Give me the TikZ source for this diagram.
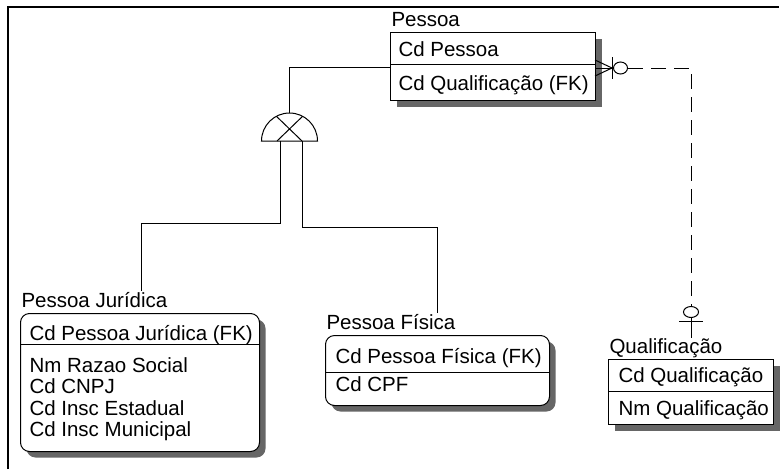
\documentclass[tikz,border=0pt]{standalone}
\usepackage{fontspec}
\setmainfont{Liberation Sans}
\usetikzlibrary{positioning,shadows,shapes.geometric}
\definecolor{Shade}{gray}{0.4}

\begin{document}
\begin{tikzpicture}[x=1pt, y=-1pt, font=\fontsize{20.5}{21.5}\selectfont, line width=1pt]
\tikzset{ent/.style={draw, fill=white, anchor=north west, inner sep=0pt, drop shadow={shadow xshift=6pt, shadow yshift=-6pt, fill=Shade, opacity=1}}, dep/.style={ent, rounded corners=9pt}, etitle/.style={inner sep=0pt, anchor=base west, at={([xshift=1pt,yshift=6pt]#1)}}, fld/.style={inner sep=0pt, anchor=base west, align=left}, ring/.style={draw, ellipse, fill=white, inner sep=0pt, minimum width=14pt, minimum height=12pt}, rel/.style={dash pattern=on 15pt off 8pt}}
\useasboundingbox (0,0) rectangle (781,469);
\draw[line width=2.5pt] (8,469) -- (8,7) -- (779,7);
% entidades
\node[ent, minimum width=205pt, minimum height=68pt] (pessoa) at (390,32) {};
\node[etitle=pessoa.north west] (pessoaT) {Pessoa};
\draw ([yshift=-32pt]pessoa.north west) -- ([yshift=-32pt]pessoa.north east);
\node[fld] (pessoaK) at (398,56) {Cd Pessoa};
\node[fld] (pessoaA) at (398,90) {Cd Qualificação (FK)};
\node[dep, minimum width=239pt, minimum height=138pt] (pj) at (20,313) {};
\node[etitle=pj.north west] (pjT) {Pessoa Jurídica};
\draw ([yshift=-31pt]pj.north west) -- ([yshift=-31pt]pj.north east);
\node[fld] (pjK) at (29,340) {Cd Pessoa Jurídica (FK)};
% a ancora base fica na ultima linha
\node[fld] (pjA) at (29,436.5) {Nm Razao Social\\Cd CNPJ\\Cd Insc Estadual\\Cd Insc Municipal};
\node[dep, minimum width=224pt, minimum height=70pt] (pf) at (325,335) {};
\node[etitle=pf.north west] (pfT) {Pessoa Física};
\draw ([yshift=-37pt]pf.north west) -- ([yshift=-37pt]pf.north east);
\node[fld] (pfK) at (335,363) {Cd Pessoa Física (FK)};
\node[fld] (pfA) at (335,391) {Cd CPF};
\node[ent, minimum width=165pt, minimum height=65pt] (qual) at (608,359) {};
\node[etitle=qual.north west] (qualT) {Qualificação};
\draw ([yshift=-32pt]qual.north west) -- ([yshift=-32pt]qual.north east);
\node[fld] (qualK) at (618,382) {Cd Qualificação};
\node[fld] (qualA) at (618,415) {Nm Qualificação};
% categoria
\coordinate (cat) at (289.5,141);
\coordinate (catTop) at (289.5,113);
\coordinate (catL) at (280,141);
\coordinate (catR) at (302,141);
\draw (cat) +(-28,0) arc[start angle=180, end angle=360, radius=28] -- cycle;
\draw (276.4,116.3) -- (302,141) (302.6,116.3) -- (277,141);
\draw ([yshift=-35pt]pessoa.north west) -| (catTop);
\draw (catL) -- ++(0,82) -| (pjT.north -| 141,0);
\draw (catR) -- ++(0,86) -| (pfT.north -| 437,0);
% relacionamento
\coordinate (heel) at (612,68);
\foreach \dy in {-8,0,8} \draw (heel) -- ++(-17,\dy);
\draw (heel) ++(0,-11) -- ++(0,22);
\node[ring] (o1) at (620.5,68) {};
\node[ring, minimum width=15pt, minimum height=11pt] (o2) at (691,312) {};
\draw[rel] (o1.east) -| (o2.north);
\draw (o2.south) ++(-12,3) -- ++(24,0);
\draw (o2.south) -- (qualT.north -| o2.south);
\end{tikzpicture}
\end{document}
